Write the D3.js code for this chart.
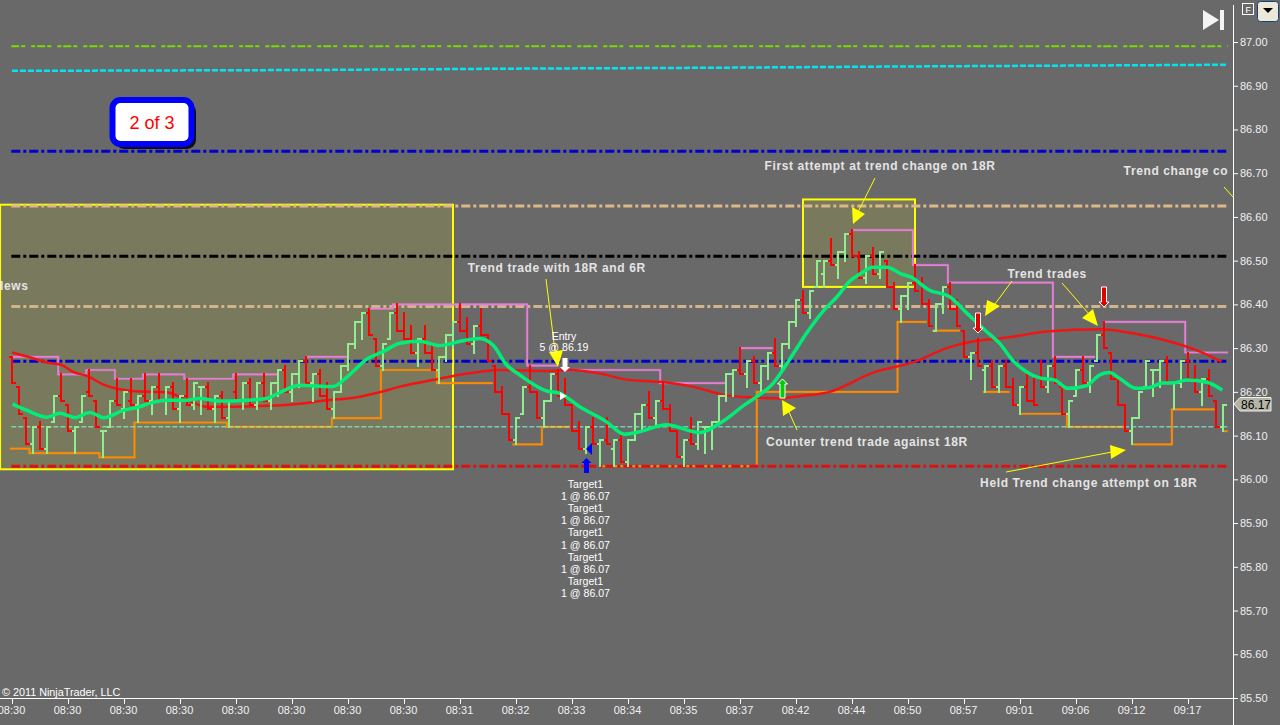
<!DOCTYPE html>
<html><head><meta charset="utf-8">
<script src="https://cdn.jsdelivr.net/npm/d3@7/dist/d3.min.js"></script>
<style>
html,body{margin:0;padding:0;background:#696969;overflow:hidden}
svg{display:block}
text{font-family:"Liberation Sans",Arial,sans-serif}
</style></head><body>
<svg id="c" width="1280" height="725"></svg>
<script>
const barHigh=[86.28,86.21,86.14,86.12,86.13,86.12,86.19,86.24,86.17,86.12,86.19,86.25,86.18,86.11,86.18,86.23,86.20,86.23,86.19,86.24,86.21,86.24,86.21,86.22,86.19,86.23,86.22,86.21,86.22,86.19,86.20,86.18,86.24,86.22,86.23,86.22,86.24,86.22,86.25,86.26,86.24,86.27,
86.28,86.24,86.25,86.22,86.20,86.26,86.31,86.36,86.38,86.39,86.32,86.31,86.38,86.40,86.38,86.35,86.32,86.35,86.31,86.28,86.33,86.36,86.40,86.37,86.35,86.39,86.33,86.26,86.21,86.15,86.14,86.21,86.26,86.20,86.18,86.24,86.25,86.23,86.17,86.13,86.12,86.14,
86.09,86.14,86.09,86.10,86.09,86.15,86.17,86.20,86.18,86.22,86.17,86.11,86.09,86.14,86.13,86.12,86.13,86.19,86.24,86.25,86.30,86.27,86.28,86.26,86.29,86.32,86.31,86.36,86.41,86.43,86.43,86.50,86.50,86.55,86.52,86.56,86.57,86.52,86.51,86.53,86.52,86.50,86.45,86.42,86.45,86.49,86.46,86.41,86.40,86.44,86.45,86.41,
86.34,86.29,86.32,86.26,86.27,86.26,86.27,86.23,86.21,86.24,86.23,86.27,86.26,86.28,86.21,86.18,86.25,86.28,86.26,86.33,86.36,86.29,86.23,86.17,86.14,86.20,86.27,86.25,86.27,86.28,86.22,86.27,86.29,86.26,86.23,86.25,86.18,86.17];
const barLow=[86.22,86.15,86.08,86.06,86.07,86.06,86.13,86.18,86.11,86.06,86.13,86.19,86.12,86.05,86.12,86.17,86.14,86.17,86.13,86.18,86.15,86.18,86.15,86.16,86.13,86.17,86.16,86.15,86.16,86.13,86.14,86.12,86.18,86.16,86.17,86.16,86.18,86.16,86.19,86.20,86.18,86.21,
86.22,86.18,86.19,86.16,86.14,86.20,86.25,86.30,86.32,86.33,86.26,86.25,86.32,86.34,86.32,86.29,86.26,86.29,86.25,86.22,86.27,86.30,86.34,86.31,86.29,86.33,86.27,86.20,86.15,86.09,86.08,86.15,86.20,86.14,86.12,86.18,86.19,86.17,86.11,86.07,86.06,86.08,
86.03,86.08,86.03,86.04,86.03,86.09,86.11,86.14,86.12,86.16,86.11,86.05,86.03,86.08,86.07,86.06,86.07,86.13,86.18,86.19,86.24,86.21,86.22,86.20,86.23,86.26,86.25,86.30,86.35,86.38,86.37,86.44,86.44,86.49,86.46,86.50,86.51,86.46,86.45,86.47,86.46,86.44,86.39,86.36,86.39,86.43,86.40,86.35,86.34,86.38,86.39,86.35,
86.28,86.23,86.26,86.20,86.21,86.20,86.21,86.17,86.15,86.18,86.17,86.21,86.20,86.22,86.15,86.12,86.19,86.22,86.20,86.27,86.30,86.23,86.17,86.11,86.08,86.14,86.21,86.19,86.21,86.22,86.16,86.21,86.23,86.20,86.17,86.19,86.12,86.11];
const barOpen=[86.28,86.21,86.14,86.08,86.12,86.07,86.13,86.19,86.17,86.11,86.13,86.20,86.18,86.11,86.12,86.18,86.16,86.18,86.17,86.19,86.18,86.21,86.18,86.21,86.16,86.19,86.17,86.21,86.21,86.16,86.19,86.14,86.20,86.18,86.22,86.17,86.22,86.18,86.22,86.25,86.20,86.24,
86.27,86.22,86.24,86.19,86.16,86.20,86.26,86.31,86.36,86.38,86.32,86.26,86.32,86.38,86.34,86.32,86.29,86.32,86.29,86.25,86.28,86.33,86.36,86.34,86.31,86.35,86.33,86.26,86.20,86.15,86.09,86.15,86.21,86.20,86.14,86.18,86.24,86.19,86.17,86.11,86.07,86.12,
86.08,86.09,86.07,86.09,86.04,86.09,86.15,86.17,86.14,86.18,86.16,86.11,86.05,86.09,86.08,86.12,86.12,86.13,86.19,86.24,86.25,86.24,86.27,86.22,86.26,86.29,86.26,86.31,86.36,86.41,86.38,86.44,86.47,86.50,86.49,86.52,86.56,86.51,86.46,86.51,86.47,86.50,86.44,86.39,86.42,86.45,86.45,86.40,86.34,86.40,86.44,86.39,
86.34,86.28,86.29,86.25,86.26,86.21,86.26,86.21,86.17,86.21,86.18,86.23,86.21,86.26,86.21,86.15,86.19,86.25,86.22,86.27,86.33,86.29,86.23,86.17,86.11,86.14,86.21,86.25,86.25,86.27,86.22,86.22,86.27,86.23,86.20,86.23,86.18,86.12];
const barClose=[86.22,86.15,86.08,86.12,86.07,86.12,86.19,86.18,86.11,86.12,86.19,86.19,86.12,86.11,86.18,86.17,86.20,86.17,86.19,86.18,86.21,86.18,86.21,86.16,86.19,86.17,86.22,86.21,86.16,86.19,86.14,86.18,86.18,86.22,86.17,86.22,86.18,86.22,86.25,86.20,86.24,86.27,
86.22,86.24,86.19,86.16,86.20,86.26,86.31,86.36,86.38,86.33,86.26,86.31,86.38,86.34,86.32,86.29,86.32,86.29,86.25,86.28,86.33,86.36,86.34,86.31,86.35,86.33,86.27,86.20,86.15,86.09,86.14,86.21,86.20,86.14,86.18,86.24,86.19,86.17,86.11,86.07,86.12,86.08,
86.09,86.08,86.09,86.04,86.09,86.15,86.17,86.14,86.18,86.16,86.11,86.05,86.09,86.08,86.13,86.12,86.13,86.19,86.24,86.25,86.24,86.27,86.22,86.26,86.29,86.26,86.31,86.36,86.41,86.38,86.43,86.50,86.50,86.49,86.52,86.56,86.51,86.46,86.51,86.47,86.52,86.44,86.39,86.42,86.45,86.43,86.40,86.35,86.40,86.44,86.39,86.35,
86.28,86.29,86.26,86.26,86.21,86.26,86.21,86.17,86.21,86.18,86.17,86.21,86.26,86.22,86.15,86.18,86.25,86.22,86.26,86.33,86.30,86.23,86.17,86.11,86.14,86.20,86.27,86.25,86.27,86.22,86.22,86.27,86.23,86.20,86.23,86.19,86.12,86.17];

const redIdx=[0,3,5,7,8.7,10.8,13,15,17.2,22.1,25,27.8,31.5,36.4,41.1,44,49.7,52.5,55.4,60.1,64,69.7,76.4,79.7,84,87.8,92.5,97.2,102.1,105.8,109.7,112.5,116.8,123,129,133.5,137.2,141.1,142.9,147.8,155.4,160.1,165.4,169.7,172.8];
const redVal=[86.29,86.277,86.267,86.262,86.246,86.236,86.217,86.207,86.202,86.199,86.181,86.166,86.166,86.168,86.173,86.179,86.189,86.199,86.212,86.227,86.239,86.25,86.248,86.25,86.242,86.228,86.223,86.212,86.192,86.187,86.185,86.19,86.20,86.244,86.269,86.30,86.315,86.322,86.326,86.338,86.343,86.334,86.315,86.292,86.269];
const greenIdx=[0.1,2.1,5,6.8,9,11.1,13.1,15.8,18.2,20.1,22.1,25,26.8,29.7,33.5,36.4,38.2,41.1,45.8,48.2,50.7,53,55.4,58.2,61.1,64.4,66.8,68.7,70.7,72.5,76.4,78.2,81.1,84.9,87.5,89.7,93.5,98.2,101.1,104.9,106.4,108.7,111.2,113.5,116,117.9,119.6,121.3,123,125,127,128.5,131,133.9,136.4,139.2,141.1,142.9,144.9,146.8,149,150.8,153.5,155.4,156.8,158.2,160.6,162.5,164.4,165.8,167.8,170.7,172.9];
const greenVal=[86.172,86.158,86.142,86.151,86.141,86.153,86.141,86.157,86.166,86.176,86.181,86.181,86.185,86.179,86.181,86.185,86.198,86.215,86.212,86.239,86.275,86.292,86.311,86.316,86.306,86.317,86.322,86.307,86.261,86.239,86.202,86.197,86.166,86.132,86.103,86.109,86.125,86.107,86.128,86.173,86.189,86.219,86.277,86.334,86.387,86.418,86.452,86.471,86.485,86.485,86.47,86.462,86.433,86.418,86.38,86.338,86.311,86.273,86.246,86.232,86.227,86.208,86.214,86.239,86.244,86.231,86.208,86.21,86.22,86.22,86.227,86.222,86.204];

const pinkIdx=[-0.3,6.6,10.6,14.7,18.7,24.6,31.6,37.9,37.9,42,47.9,47.9,51.1,54.4,73.6,77.9,77.9,79.1,92.6,101.9,101.9,104,108.7,108.7,120.1,128.7,133.7,148.7,154.7,154.7,155.9,167.6,173.7];
const pinkVal=[86.28,86.24,86.25,86.23,86.24,86.23,86.24,86.24,null,86.28,86.28,null,86.39,86.40,86.26,86.26,null,86.25,86.22,86.22,null,86.30,86.30,null,86.57,86.49,86.45,86.28,86.28,null,86.36,86.29,86.29];
const orangeIdx=[-0.3,2.5,12.5,17.5,30.7,45.7,52.7,60.7,68.7,68.7,71.5,75.7,79.7,79.7,84,106.4,126.5,130.7,130.7,131.5,135.4,135.4,138.7,142.5,142.5,144,150.7,159,159,160,165.7,171.8,171.8,172.9,173.7];
const orangeVal=[86.07,86.06,86.05,86.13,86.12,86.14,86.25,86.22,86.22,null,86.08,86.12,86.12,null,86.03,86.20,86.36,86.36,null,86.34,86.34,null,86.20,86.20,null,86.15,86.12,86.12,null,86.08,86.16,86.16,null,86.11,86.11];

const levelPrice=[86.99,86.75,86.625,86.51,86.395,86.27,86.12,86.03];
const levelColor=["#78dc00","#0000cd","#deb887","#000000","#d2b48c","#0000cd","#7fffd4","#e01010"];
const levelWidth=[2,3,3,3,3,3,1,3];
const levelDash=["8,2,4,6,4,2","9,3,3,3","9,3,3,3","9,3,3,3","9,3,3,3","9,3,3,3","5,2","9,3,3,3"];
const cyanIdx=[0,43,71,99,127,173.7];
const cyanVal=[86.934,86.936,86.939,86.941,86.944,86.948];

const priceTicks=[87,86.9,86.8,86.7,86.6,86.5,86.4,86.3,86.2,86.1,86,85.9,85.8,85.7,85.6,85.5];
const timeLabels=["08:30","08:30","08:30","08:30","08:30","08:30","08:30","08:30","08:31","08:32","08:33","08:34","08:35","08:37","08:42","08:44","08:50","08:57","09:01","09:06","09:12","09:17"];
const tickIdx=timeLabels.map((_,i)=>i*8);

const notes=["First attempt at trend change on 18R","Trend change co","lews","Trend trade with 18R and 6R","Trend trades","Counter trend trade against 18R","Held Trend change attempt on 18R"];
const noteIdx=[107.5,158.8,-1.7,65.1,142.2,107.7,138.3];
const notePrice=[86.708,86.696,86.433,86.474,86.46,86.076,85.982];
const targetLines=["Target1","1 @ 86.07","Target1","1 @ 86.07","Target1","1 @ 86.07","Target1","1 @ 86.07","Target1","1 @ 86.07"];

const svg=d3.select("#c");
const x=d3.scaleLinear().domain([0,173]).range([12,1223]);
const y=d3.scaleLinear().domain([85.5,87]).range([698,42]);
const defs=svg.append("defs");
defs.append("clipPath").attr("id","plot").append("rect").attr("width",1233).attr("height",698);
const plot=svg.append("g").attr("clip-path","url(#plot)");

function box(i0,i1,p0,p1){
  plot.append("rect").attr("x",x(i0)).attr("y",y(p1)).attr("width",x(i1)-x(i0)).attr("height",y(p0)-y(p1))
   .attr("fill","#ffff00").attr("fill-opacity",0.11).attr("stroke","#ffff00").attr("stroke-width",2);
}
box(-1.7,63,86.023,86.628);
box(113,129,86.44,86.64);

function steps(idx,val,col){
  const pts=idx.map((d,i)=>[d,val[i]]);
  const ln=d3.line().defined(d=>d[1]!=null).x(d=>x(d[0])).y(d=>y(d[1])).curve(d3.curveStepAfter);
  plot.append("path").attr("fill","none").attr("stroke",col).attr("stroke-opacity",.35).attr("stroke-width",2.6).attr("d",ln(pts));
  plot.append("path").attr("fill","none").attr("stroke",col).attr("stroke-width",1.7).attr("d",ln(pts));
}
steps(orangeIdx,orangeVal,"#ff8c00");

const bx0=x(-0.1), bx1=x(173.7);
levelPrice.forEach((p,i)=>{
  plot.append("line").attr("x1",bx0).attr("x2",bx1).attr("y1",y(p)).attr("y2",y(p))
   .attr("stroke",levelColor[i]).attr("stroke-width",levelWidth[i]).attr("stroke-dasharray",levelDash[i]);
});
plot.append("path").attr("fill","none").attr("stroke","#00e5ee").attr("stroke-width",2.5).attr("stroke-dasharray","6,2")
  .attr("d",d3.line().x(d=>x(d)).y((d,i)=>y(cyanVal[i]))(cyanIdx));

steps(pinkIdx,pinkVal,"#e47fd6");

plot.append("path").attr("fill","none").attr("stroke","#f01414").attr("stroke-width",2.5)
  .attr("d",d3.line().x(d=>x(d)).y((d,i)=>y(redVal[i])).curve(d3.curveMonotoneX)(redIdx));

const tick=3.5;
const gb=plot.append("g").attr("stroke-width",2).attr("fill","none").attr("shape-rendering","crispEdges");
const bars=gb.selectAll("g").data(barHigh).join("g")
  .attr("stroke",(d,i)=>barClose[i]<barOpen[i]?"#ff0000":"#90ee90");
bars.append("line").attr("x1",(d,i)=>x(i)).attr("x2",(d,i)=>x(i)).attr("y1",(d,i)=>y(barHigh[i])-1).attr("y2",(d,i)=>y(barLow[i])+1);
bars.append("line").attr("x1",(d,i)=>x(i)-tick).attr("x2",(d,i)=>x(i)).attr("y1",(d,i)=>y(barOpen[i])).attr("y2",(d,i)=>y(barOpen[i]));
bars.append("line").attr("x1",(d,i)=>x(i)).attr("x2",(d,i)=>x(i)+tick).attr("y1",(d,i)=>y(barClose[i])).attr("y2",(d,i)=>y(barClose[i]));

plot.append("path").attr("fill","none").attr("stroke","#00ee76").attr("stroke-width",3.5).attr("stroke-linejoin","round")
  .attr("d",d3.line().x(d=>x(d)).y((d,i)=>y(greenVal[i])).curve(d3.curveMonotoneX)(greenIdx));

const leaders=[[875,178,858,212],[546,279,555,351],[797,430,789,412],[1012,281,995,304],[1062,283,1089,314],[1006,472,1112,452],[1224,187,1233,197]];
leaders.forEach(l=>plot.append("line").attr("x1",l[0]).attr("y1",l[1]).attr("x2",l[2]).attr("y2",l[3]).attr("stroke","#ffff00").attr("stroke-width",1));
const tris=[[[852,207],[865,214],[853,224]],[[549,352],[563,350],[558,367]],[[782,400],[796,408],[783,416]],[[987,300],[1000,306],[985,316]],[[1093,309],[1098,326],[1082,318]],[[1110,445],[1126,450],[1111,459]]];
plot.selectAll("polygon.t").data(tris).join("polygon").attr("class","t").attr("points",d=>d.join(" ")).attr("fill","#ffff00");

function arrow(cx,y0,y1,dir,fill,outline){
  const sh=2.5,hw=5,hd=5,tip=dir>0?y1:y0,base=dir>0?y1-hd:y0+hd,tail=dir>0?y0:y1;
  plot.append("polygon").attr("points",[[cx-sh,tail],[cx+sh,tail],[cx+sh,base],[cx+hw,base],[cx,tip],[cx-hw,base],[cx-sh,base]].join(" "))
    .attr("fill",fill).attr("stroke",outline||"none").attr("stroke-width",outline?1:0);
}
arrow(565,358,372,1,"#ffffff");
arrow(586.5,458,473,-1,"#0000ff");
arrow(782.5,379,398,-1,"#00d000","#ffffff");
arrow(978,313,333,1,"#e00000","#ffffff");
arrow(1104,287,307,1,"#e00000","#ffffff");
plot.append("polygon").attr("points","560,392 566.5,396 560,400").attr("fill","#ffffff");
plot.append("polygon").attr("points","586,449 592,443 592,455").attr("fill","#0000ff");

notes.forEach((t,i)=>{
  plot.append("text").attr("x",x(noteIdx[i])).attr("y",y(notePrice[i])).attr("fill","#e4e4e4")
   .attr("font-size",12).attr("font-weight","bold").attr("letter-spacing",0.62).text(t);
});
plot.append("text").attr("x",564).attr("y",340).attr("text-anchor","middle").attr("fill","#fff").attr("font-size",10.6).text("Entry");
plot.append("text").attr("x",564).attr("y",351).attr("text-anchor","middle").attr("fill","#fff").attr("font-size",10.6).text("5 @ 86.19");
plot.selectAll("text.tg").data(targetLines).join("text").attr("class","tg")
  .attr("x",585.5).attr("y",(d,i)=>487.5+i*12.2).attr("text-anchor","middle").attr("fill","#fff").attr("font-size",10.6).text(d=>d);

plot.append("text").attr("x",2).attr("y",696).attr("fill","#fff").attr("font-size",10.8).text("© 2011 NinjaTrader, LLC");

plot.append("rect").attr("x",115).attr("y",103).attr("width",81).attr("height",46).attr("rx",9).attr("fill","#000").attr("opacity",.85);
plot.append("rect").attr("x",112.5).attr("y",100).attr("width",79).attr("height",44).attr("rx",8).attr("fill","#fff").attr("stroke","#0000ff").attr("stroke-width",6);
plot.append("text").attr("x",152).attr("y",129).attr("text-anchor","middle").attr("fill","#ff0000").attr("font-size",18).text("2 of 3");

const ax=svg.append("g").attr("transform","translate(1233,0)").call(
  d3.axisRight(y).tickValues(priceTicks).tickFormat(d3.format(".2f")).tickSize(5).tickPadding(2));
const at=svg.append("g").attr("transform","translate(0,698)").call(
  d3.axisBottom(x).tickValues(tickIdx).tickFormat((d,i)=>timeLabels[i]).tickSize(6).tickPadding(2));
[ax,at].forEach(a=>{
  a.select(".domain").remove();
  a.selectAll("line").attr("stroke","#fff");
  a.selectAll("text").attr("fill","#f0f0f0").attr("font-size",11).attr("font-family","'Liberation Sans',Arial,sans-serif");
});
at.selectAll("text").attr("dx",-1);
svg.append("line").attr("x1",1233.5).attr("x2",1233.5).attr("y1",5).attr("y2",725).attr("stroke","#fff");
svg.append("line").attr("x1",0).attr("x2",1233.5).attr("y1",698.5).attr("y2",698.5).attr("stroke","#fff");

svg.append("polygon").attr("points","1234,404 1240,397.5 1271,397.5 1271,411 1240,411").attr("fill","#b4b4a4").attr("stroke","#f0f0f0");
svg.append("text").attr("x",1241).attr("y",408.5).attr("fill","#000").attr("font-size",12).text(d3.format(".2f")(barClose[173]));

svg.append("polygon").attr("points","1203,10 1219,20 1203,30").attr("fill","#f4f4f4");
svg.append("rect").attr("x",1220).attr("y",10).attr("width",4).attr("height",20).attr("fill","#f4f4f4");
svg.append("rect").attr("x",1242.5).attr("y",3.5).attr("width",11).attr("height",11).attr("fill","none").attr("stroke","#fff");
svg.append("text").attr("x",1245.5).attr("y",12.5).attr("fill","#fff").attr("font-size",9).text("F");
svg.append("rect").attr("x",1257.5).attr("y",1.5).attr("width",21).attr("height",20).attr("rx",3).attr("fill","#ece9d8").attr("stroke","#17417f");
svg.append("polygon").attr("points","1263,8 1273,8 1268,13").attr("fill","#000");
</script>
</body></html>
